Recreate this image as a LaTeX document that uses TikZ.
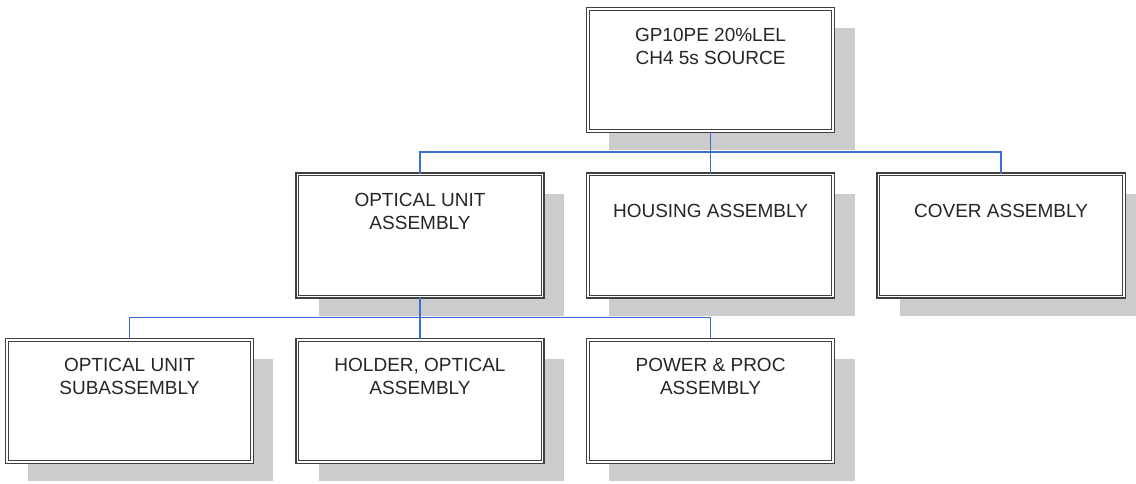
\documentclass[tikz,border=0pt]{standalone}
\usepackage{fontspec}
\setmainfont{Liberation Sans}
\usetikzlibrary{positioning, shadows}
\definecolor{linkblue}{RGB}{60,110,210}

\begin{document}
\begin{tikzpicture}[node distance=31.5pt and 33pt,
		unit/.style={rectangle, draw=black!75, line width=0.9pt, double=white,
			double distance=1.2pt, fill=white, minimum width=184pt,
			minimum height=91.7pt, inner sep=0pt,
			drop shadow={shadow xshift=16pt, shadow yshift=-14.5pt,
				fill=black!20, opacity=1}},
		caption/.style={align=center, text=black!85, inner sep=0pt,
			font=\fontsize{14.25}{17.25}\selectfont},
		link/.style={draw=linkblue, line width=1.2pt}]

  \useasboundingbox (-532.9pt,52.5pt) rectangle (319.1pt,-309.75pt);

  % boxes
  \node[unit] (source) at (0,0) {};
  \node[unit] (housing) [below=of source] {};
  \node[unit] (optical) [left=of housing] {};
  \node[unit] (cover) [right=of housing] {};
  \node[unit] (holder) [below=of optical] {};
  \node[unit] (subassy) [left=of holder] {};
  \node[unit] (power) [right=of holder] {};

  % texts
  \node[caption] (source_t) at ([yshift=-28.5pt]source.north) {GP10PE 20\%LEL\\CH4 5s SOURCE};
  \node[caption] (housing_t) at ([yshift=-28pt]housing.north) {HOUSING ASSEMBLY};
  \node[caption] (optical_t) at ([yshift=-28pt]optical.north) {OPTICAL UNIT\\ASSEMBLY};
  \node[caption] (cover_t) at ([yshift=-28pt]cover.north) {COVER ASSEMBLY};
  \node[caption] (holder_t) at ([yshift=-28pt]holder.north) {HOLDER, OPTICAL\\ASSEMBLY};
  \node[caption] (subassy_t) at ([yshift=-28pt]subassy.north) {OPTICAL UNIT\\SUBASSEMBLY};
  \node[caption] (power_t) at ([yshift=-28pt]power.north) {POWER \& PROC\\ASSEMBLY};

  % connectors
  \coordinate (bus_a) at ([yshift=-15.275pt]source.south);
  \coordinate (bus_b) at ([yshift=-15.3pt]optical.south);
  \draw[link] (source.south) -- (housing.north);
  \draw[link] (bus_a) -| (optical.north);
  \draw[link] (bus_a) -| (cover.north);
  \draw[link] (optical.south) -- (holder.north);
  \draw[link] (bus_b) -| (subassy.north);
  \draw[link] (bus_b) -| (power.north);

\end{tikzpicture}
\end{document}
